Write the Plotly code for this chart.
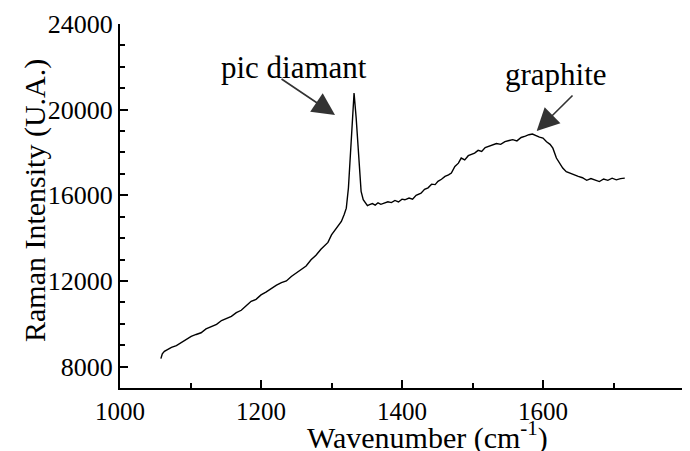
# Raman spectrum with diamond and graphite peaks
import plotly.graph_objects as go

# values
wavenumber = [1058, 1060, 1063, 1068, 1073, 1080, 1087, 1094, 1101, 1108, 1115, 1122, 1130,
              1137, 1144, 1151, 1158, 1165, 1172, 1179, 1186, 1193, 1200, 1207, 1215, 1222,
              1229, 1236, 1243, 1250, 1257, 1264, 1271, 1278, 1285, 1290, 1295, 1300, 1305,
              1310, 1314, 1318, 1321, 1324, 1327, 1330, 1332, 1335, 1337, 1339, 1342, 1345,
              1348, 1351, 1354, 1358, 1362, 1366, 1370, 1375, 1380, 1385, 1390, 1395, 1400,
              1404, 1410, 1415, 1420, 1427, 1432, 1437, 1442, 1447, 1451, 1456, 1461, 1466,
              1470, 1475, 1480, 1484, 1489, 1494, 1498, 1503, 1508, 1513, 1518, 1522, 1528,
              1534, 1540, 1546, 1552, 1557, 1563, 1569, 1575, 1580, 1585, 1590, 1595, 1600,
              1605, 1610, 1614, 1619, 1623, 1628, 1633, 1640, 1645, 1650, 1656, 1662, 1668,
              1673, 1680, 1686, 1692, 1698, 1704, 1710, 1716]
intensity = [8370, 8600, 8710, 8800, 8900, 8980, 9120, 9230, 9410, 9500, 9580, 9760, 9880,
             9970, 10150, 10240, 10350, 10520, 10630, 10840, 11050, 11140, 11350, 11480, 11670, 11800,
             11920, 12000, 12210, 12380, 12520, 12700, 12990, 13200, 13480, 13620, 13800, 14150, 14390,
             14600, 14780, 15100, 15400, 16340, 18050, 19610, 20780, 19610, 18500, 17590, 16180, 15800,
             15640, 15520, 15560, 15610, 15540, 15650, 15580, 15640, 15700, 15660, 15760, 15690, 15820,
             15790, 15870, 15820, 16000, 16100, 16280, 16350, 16520, 16500, 16650, 16750, 16880, 16950,
             17040, 17350, 17500, 17740, 17650, 17850, 17900, 17970, 18100, 18050, 18230, 18280, 18350,
             18420, 18380, 18510, 18560, 18600, 18540, 18700, 18760, 18830, 18860, 18780, 18720, 18670,
             18500, 18380, 18200, 17740, 17500, 17270, 17100, 17000, 16960, 16880, 16820, 16700, 16780,
             16730, 16640, 16760, 16700, 16800, 16720, 16780, 16800]

x_ticks = [1000, 1200, 1400, 1600, 1800]
y_ticks = [8000, 12000, 16000, 20000, 24000]

FONT = "Liberation Serif"

fig = go.Figure()
fig.add_trace(go.Scatter(x=wavenumber, y=intensity, mode="lines",
                         line=dict(color="black", width=1.4), showlegend=False))

axis_common = dict(showline=True, linecolor="black", linewidth=2, ticks="inside",
                   ticklen=8, tickwidth=1.5, tickcolor="black", showgrid=False,
                   zeroline=False, tickformat="d", automargin=False)

fig.update_xaxes(range=[1000, 1800], tickvals=x_ticks,
                 tickfont=dict(family=FONT, size=25, color="black"),
                 minor=dict(dtick=100, tick0=1000, ticks="inside", ticklen=5, tickcolor="black"),
                 **axis_common)
fig.update_yaxes(range=[7000, 24000], tickvals=y_ticks,
                 tickfont=dict(family=FONT, size=26, color="black"),
                 minor=dict(dtick=1000, tick0=7000, ticks="inside", ticklen=5, tickcolor="black"),
                 **axis_common)

# axis titles
fig.add_annotation(xref="paper", yref="paper", x=0.545, y=-0.19,
                   xanchor="center", yanchor="bottom",
                   text="Wavenumber (cm<sup>-1</sup>)", showarrow=False,
                   font=dict(family=FONT, size=30, color="black"))
fig.add_annotation(xref="paper", yref="paper", x=-0.151, y=0.516,
                   xanchor="center", yanchor="middle", textangle=-90,
                   text="Raman Intensity (U.A.)", showarrow=False,
                   font=dict(family=FONT, size=30, color="black"))

# labels and arrows
fig.add_annotation(x=1247, y=21950, text="pic diamant", showarrow=False,
                   font=dict(family=FONT, size=31, color="black"))
fig.add_annotation(x=1618, y=21650, text="graphite", showarrow=False,
                   font=dict(family=FONT, size=31, color="black"))
fig.add_annotation(x=1305, y=19750, ax=1227, ay=21480, axref="x", ayref="y", text="",
                   showarrow=True, arrowhead=2, arrowsize=2.8, arrowwidth=1.6, arrowcolor="#333")
fig.add_annotation(x=1591, y=19000, ax=1644, ay=20730, axref="x", ayref="y", text="",
                   showarrow=True, arrowhead=2, arrowsize=2.8, arrowwidth=1.6, arrowcolor="#333")

fig.update_layout(width=690, height=451, plot_bgcolor="white", paper_bgcolor="white",
                  margin=dict(l=112, r=14, t=16, b=71),
                  font=dict(family=FONT, color="black"))

fig.write_html("out.html")
